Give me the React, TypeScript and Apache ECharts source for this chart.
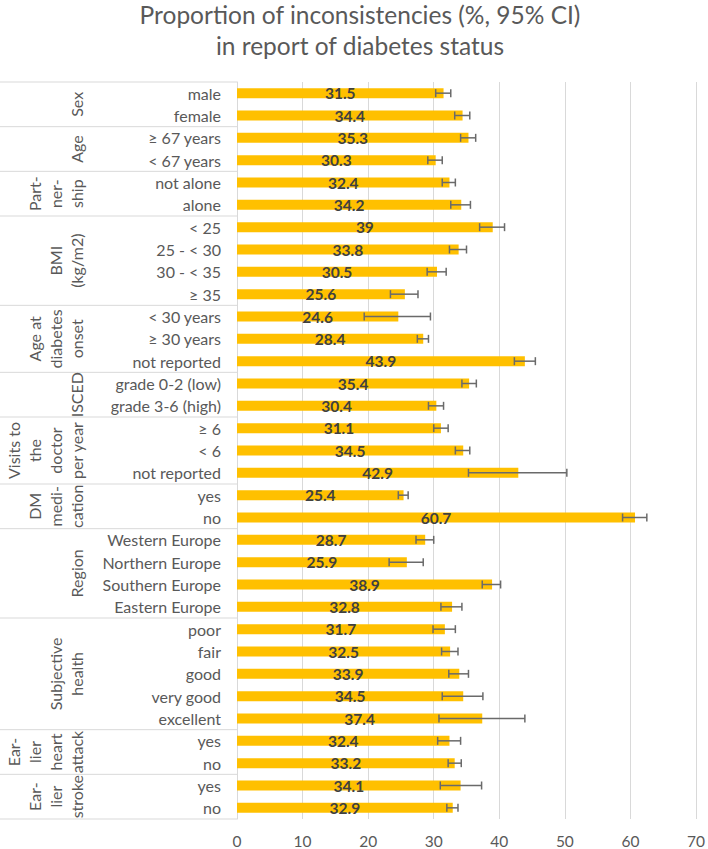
import React, { useEffect, useRef } from 'react';
import * as echarts from 'echarts';

const categories = [
  'male', 'female',
  '≥ 67 years', '< 67 years',
  'not alone', 'alone',
  '< 25', '25 - < 30', '30 - < 35', '≥ 35',
  '< 30 years', '≥ 30 years', 'not reported',
  'grade 0-2 (low)', 'grade 3-6 (high)',
  '≥ 6', '< 6', 'not reported ',
  'yes', 'no',
  'Western Europe', 'Northern Europe', 'Southern Europe', 'Eastern Europe',
  'poor', 'fair', 'good', 'very good', 'excellent',
  'yes ', 'no ',
  'yes  ', 'no  ',
];

const values = [
  31.5, 34.4, 35.3, 30.3, 32.4, 34.2, 39, 33.8, 30.5, 25.6, 24.6, 28.4, 43.9,
  35.4, 30.4, 31.1, 34.5, 42.9, 25.4, 60.7, 28.7, 25.9, 38.9, 32.8, 31.7, 32.5,
  33.9, 34.5, 37.4, 32.4, 33.2, 34.1, 32.9,
];

const ciLow = [
  30.3, 33.2, 34.1, 29.1, 31.3, 32.6, 37.0, 32.4, 29.0, 23.4, 19.4, 27.5, 42.3,
  34.3, 29.2, 30.0, 33.3, 35.3, 24.6, 58.8, 27.3, 23.2, 37.4, 31.1, 29.9, 31.2,
  32.3, 31.3, 30.8, 30.6, 32.2, 31.0, 32.0,
];

const ciHigh = [
  32.6, 35.5, 36.4, 31.3, 33.3, 35.6, 40.8, 35.0, 31.9, 27.6, 29.5, 29.2, 45.5,
  36.5, 31.5, 32.2, 35.5, 50.3, 26.1, 62.5, 30.0, 28.4, 40.2, 34.3, 33.3, 33.7,
  35.3, 37.5, 43.9, 34.1, 34.2, 37.3, 33.7,
];

const groupLabels = [
  'Sex',
  'Age',
  'Part-\nner-\nship',
  'BMI\n(kg/m2)',
  'Age at\ndiabetes\nonset',
  'ISCED',
  'Visits to\nthe\ndoctor\nper year',
  'DM\nmedi-\ncation',
  'Region',
  'Subjective\nhealth',
  'Ear-\nlier\nheart\nattack',
  'Ear-\nlier\nstroke',
];
const groupSizes = [2, 2, 2, 4, 3, 2, 3, 2, 4, 5, 2, 2];

const titleText = 'Proportion of inconsistencies (%, 95% CI)\nin report of diabetes status';

const FONT = 'Lato, "Open Sans", sans-serif';
const GRAY = '#595959';
const LINE = '#d9d9d9';

export default function App() {
  const ref = useRef<HTMLDivElement>(null);

  useEffect(() => {
    const chart = echarts.init(ref.current!, null, { renderer: 'svg' });
    const gridLeft = 237;
    chart.setOption({
      animation: false,
      title: {
        text: titleText,
        left: 360,
        top: -1,
        textAlign: 'center',
        padding: 0,
        textStyle: {
          fontFamily: FONT,
          fontSize: 24.5,
          fontWeight: 'normal',
          color: GRAY,
          lineHeight: 31,
        },
      },
      grid: { left: gridLeft, right: 9, top: 82, bottom: 28, containLabel: false },
      xAxis: {
        type: 'value',
        min: 0,
        max: 70,
        interval: 10,
        axisLine: { show: false },
        axisTick: { show: false },
        splitLine: { lineStyle: { color: LINE, width: 1 } },
        axisLabel: { color: GRAY, fontSize: 15.5, margin: 14, fontFamily: FONT },
      },
      yAxis: {
        type: 'category',
        data: categories,
        inverse: true,
        axisLine: { lineStyle: { color: LINE, width: 1 } },
        axisTick: { show: false },
        axisLabel: {
          color: GRAY,
          fontSize: 16,
          margin: 16,
          interval: 0,
          fontFamily: FONT,
          formatter: (v: string) => v.trim(),
        },
      },
      series: [
        {
          type: 'bar',
          data: values,
          barWidth: 10,
          itemStyle: { color: '#FFC000' },
          label: {
            show: true,
            position: 'inside',
            color: '#404040',
            fontWeight: 'bold',
            fontSize: 15.5,
            fontFamily: FONT,
          },
          z: 2,
        },
        {
          type: 'custom',
          data: categories.map((_, i) => [i, ciLow[i], ciHigh[i]]),
          encode: { y: 0, x: [1, 2] },
          z: 3,
          renderItem: (params: any, api: any) => {
            const idx = api.value(0);
            const lo = api.coord([api.value(1), idx]);
            const hi = api.coord([api.value(2), idx]);
            const h = 4;
            const style = { stroke: '#6a6a6a', lineWidth: 1.5 };
            return {
              type: 'group',
              children: [
                { type: 'line', shape: { x1: lo[0], y1: lo[1], x2: hi[0], y2: hi[1] }, style },
                { type: 'line', shape: { x1: lo[0], y1: lo[1] - h, x2: lo[0], y2: lo[1] + h }, style },
                { type: 'line', shape: { x1: hi[0], y1: hi[1] - h, x2: hi[0], y2: hi[1] + h }, style },
              ],
            };
          },
        },
      ],
    });

    const yc = (i: number) => chart.convertToPixel({ yAxisIndex: 0 }, i) as number;
    const step = yc(1) - yc(0);
    const graphics: any[] = [];
    let start = 0;
    const boundaryY = (i: number) => yc(i) - step / 2;
    graphics.push({
      type: 'line',
      shape: { x1: 0, y1: boundaryY(0), x2: gridLeft, y2: boundaryY(0) },
      style: { stroke: LINE, lineWidth: 1 },
    });
    groupSizes.forEach((size, g) => {
      const end = start + size;
      const yTop = boundaryY(start);
      const yBot = boundaryY(end);
      graphics.push({
        type: 'line',
        shape: { x1: 0, y1: yBot, x2: gridLeft, y2: yBot },
        style: { stroke: LINE, lineWidth: 1 },
      });
      graphics.push({
        type: 'text',
        x: 87,
        y: (yTop + yBot) / 2,
        rotation: Math.PI / 2,
        style: {
          text: groupLabels[g],
          fontFamily: FONT,
          fontSize: 16,
          lineHeight: 21,
          fill: GRAY,
          align: 'center',
          verticalAlign: 'bottom',
        },
      });
      start = end;
    });
    chart.setOption({ graphic: graphics });

    return () => chart.dispose();
  }, []);

  return (
    <div
      ref={ref}
      style={{ position: 'absolute', left: 0, top: 0, width: 708, height: 849 }}
    />
  );
}
